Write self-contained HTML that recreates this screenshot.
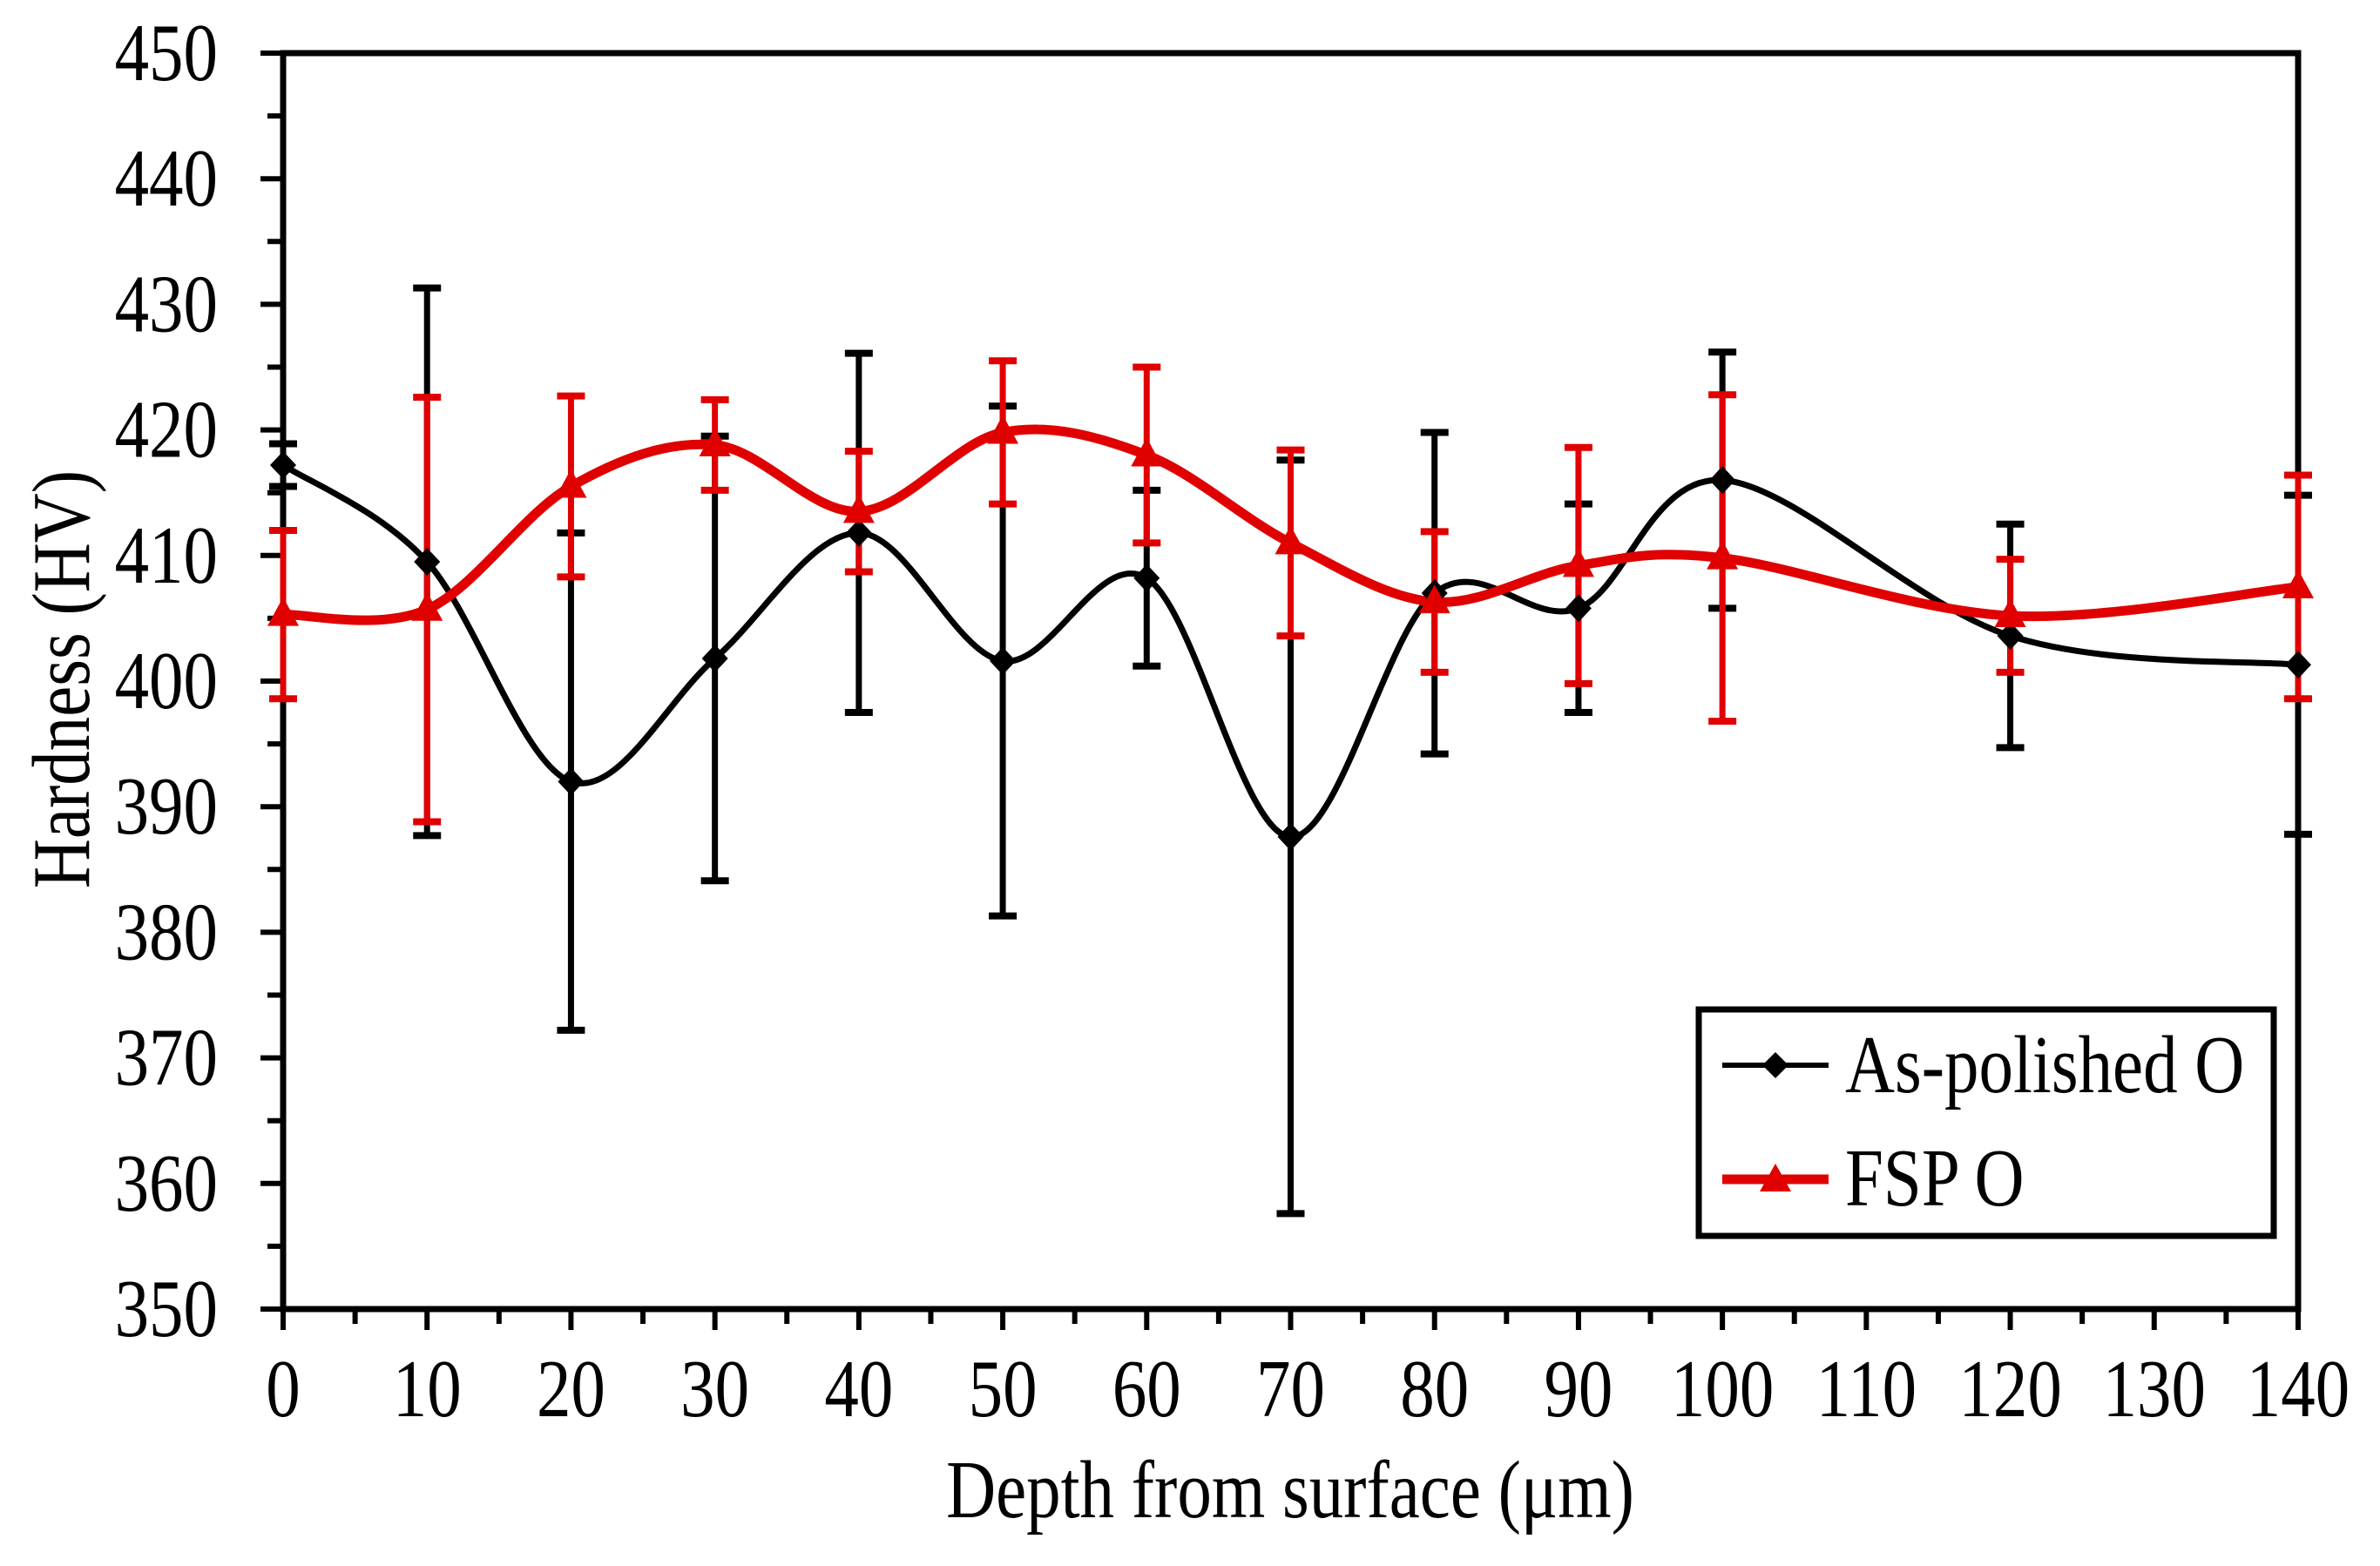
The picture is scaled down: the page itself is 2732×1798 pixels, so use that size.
<!DOCTYPE html>
<html><head><meta charset="utf-8"><style>
html,body{margin:0;padding:0;background:#fff;}
svg{display:block;font-family:"Liberation Serif",serif;}
</style></head><body>
<svg id="chart" width="2732" height="1798" viewBox="0 0 2732 1798" xmlns="http://www.w3.org/2000/svg">
<rect width="2732" height="1798" fill="#fff"/>
<g id="axes"></g>
<g id="series"></g>
<text transform="translate(1481,1742) scale(0.84,1)" font-size="94" text-anchor="middle">Depth from surface (μm)</text>
<text transform="translate(102,780) rotate(-90) scale(0.84,1)" font-size="94" text-anchor="middle">Hardness (HV)</text>
<g>
<rect x="1950" y="1159" width="660" height="260" fill="#fff" stroke="#000" stroke-width="7"/>
<g>
<line x1="1977" y1="1223" x2="2099" y2="1223" stroke="#000" stroke-width="6"/>
<path d="M2038 1208 L2053 1223 L2038 1238 L2023 1223Z" fill="#000"/>
<text transform="translate(2118,1254) scale(0.84,1)" font-size="94">As-polished O</text>
</g>
<g>
<line x1="1977" y1="1354" x2="2099" y2="1354" stroke="#e00000" stroke-width="11"/>
<path d="M2038 1336 L2056 1368 L2020 1368Z" fill="#e00000"/>
<text transform="translate(2118,1384) scale(0.84,1)" font-size="94">FSP O</text>
</g>
</g>
</svg>
<script>
const depths = [0,10,20,30,40,50,60,70,80,90,100,120,140];
const asPolished = [417.2,409.5,392,401.8,411.8,401.6,408.2,387.6,407,405.8,416,403.6,401.3];
const asPolishedErr = [1.7,21.8,19.8,17.7,14.3,20.3,7,30,12.8,8.3,10.2,8.9,13.5];
const fsp = [405.3,405.7,415.5,418.8,413.5,419.8,418,411,406.3,409.2,409.8,405.2,407.5];
const fspErr = [6.7,16.9,7.2,3.6,4.8,5.7,7,7.4,5.6,9.4,13,4.5,8.9];
const yTicks = [350,360,370,380,390,400,410,420,430,440,450];
const xTicks = [0,10,20,30,40,50,60,70,80,90,100,110,120,130,140];

const X0=325,X1=2638,Y0=1503,Y1=61;
const sx=v=>X0+(v-0)/(140-0)*(X1-X0);
const sy=v=>Y0-(v-350)/(450-350)*(Y0-Y1);
const NS="http://www.w3.org/2000/svg";
function mk(tag,attrs,parent){const e=document.createElementNS(NS,tag);for(const k in attrs)e.setAttribute(k,attrs[k]);parent.appendChild(e);return e;}
const axes=document.getElementById('axes');
const ser=document.getElementById('series');

const frame=mk('rect',{x:X0,y:Y1,width:X1-X0,height:Y0-Y1,fill:'none',stroke:'#000','stroke-width':7},axes);



yTicks.forEach((v,i)=>{
  const t=mk('line',{x1:X0-26,x2:X0,y1:sy(v),y2:sy(v),stroke:'#000','stroke-width':6},axes);
  
  
  if(i<yTicks.length-1){
    const m=mk('line',{x1:X0-18,x2:X0,y1:sy(v+5),y2:sy(v+5),stroke:'#000','stroke-width':6},axes);
    
    
  }
  const l=mk('text',{transform:`translate(${X0-75},${sy(v)+31}) scale(0.84,1)`,'font-size':94,'text-anchor':'end'},axes);
  l.textContent=v;
  
  
});
xTicks.forEach((v,i)=>{
  const t=mk('line',{x1:sx(v),x2:sx(v),y1:Y0,y2:Y0+24,stroke:'#000','stroke-width':6},axes);
  
  
  if(i<xTicks.length-1){
    const m=mk('line',{x1:sx(v+5),x2:sx(v+5),y1:Y0,y2:Y0+17,stroke:'#000','stroke-width':6},axes);
    
    
  }
  const l=mk('text',{transform:`translate(${sx(v)},${Y0+123}) scale(0.84,1)`,'font-size':94,'text-anchor':'middle'},axes);
  l.textContent=v;
  
  
});

function smooth(pts){
  let d=`M${pts[0][0]} ${pts[0][1]}`;
  for(let i=0;i<pts.length-1;i++){
    const p0=pts[i-1]||pts[i],p1=pts[i],p2=pts[i+1],p3=pts[i+2]||p2;
    const c1=[p1[0]+(p2[0]-p0[0])/6,p1[1]+(p2[1]-p0[1])/6];
    const c2=[p2[0]-(p3[0]-p1[0])/6,p2[1]-(p3[1]-p1[1])/6];
    d+=` C${c1[0]} ${c1[1]} ${c2[0]} ${c2[1]} ${p2[0]} ${p2[1]}`;
  }
  return d;
}
function drawErr(vals,errs,color,name){
  depths.forEach((x,i)=>{
    const g=mk('g',{},ser);
    
    
    const cx=sx(x),t=sy(vals[i]+errs[i]),b=sy(vals[i]-errs[i]);
    mk('line',{x1:cx,x2:cx,y1:t,y2:b,stroke:color,'stroke-width':7},g);
    mk('line',{x1:cx-16,x2:cx+16,y1:t,y2:t,stroke:color,'stroke-width':8},g);
    mk('line',{x1:cx-16,x2:cx+16,y1:b,y2:b,stroke:color,'stroke-width':8},g);
  });
}
drawErr(asPolished,asPolishedErr,'#000','as-polished');
drawErr(fsp,fspErr,'#e00000','fsp');

const l1=mk('path',{d:smooth(depths.map((x,i)=>[sx(x),sy(asPolished[i])])),fill:'none',stroke:'#000','stroke-width':7},ser);


const l2=mk('path',{d:smooth(depths.map((x,i)=>[sx(x),sy(fsp[i])])),fill:'none',stroke:'#e00000','stroke-width':11},ser);



depths.forEach((x,i)=>{
  const cx=sx(x),cy=sy(asPolished[i]);
  const m=mk('path',{d:`M${cx} ${cy-16} L${cx+15} ${cy} L${cx} ${cy+16} L${cx-15} ${cy}Z`,fill:'#000'},ser);
  
  
});
depths.forEach((x,i)=>{
  const cx=sx(x),cy=sy(fsp[i]);
  const m=mk('path',{d:`M${cx} ${cy-20} L${cx+18} ${cy+13} L${cx-18} ${cy+13}Z`,fill:'#e00000'},ser);
  
  
});
</script>
</body></html>
